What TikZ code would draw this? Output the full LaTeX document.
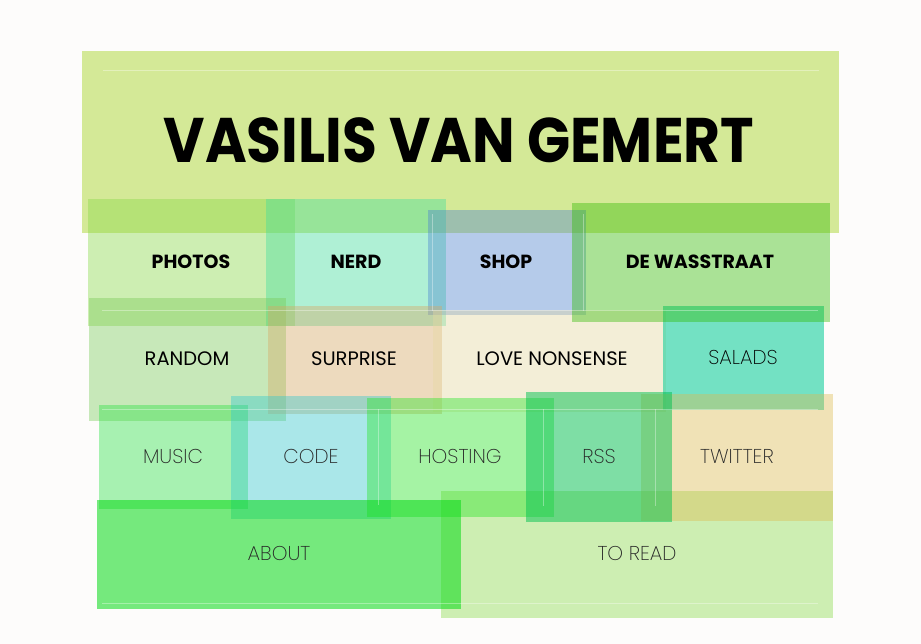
\documentclass[tikz,border=0pt]{standalone}
\usepackage{fontspec}
\setmainfont{Poppins}
\newfontfamily\pthin{Poppins ExtraLight}
\newfontfamily\pbold{Poppins Bold}
\newfontfamily\ptitle{Poppins Bold}[FakeStretch=0.9]
\definecolor{bgc}{RGB}{253,252,251}
\definecolor{cHead}{RGB}{152,205,3}
\definecolor{cPhotos}{RGB}{135,217,70}
\definecolor{cNerd}{RGB}{60,222,157}
\definecolor{cShop}{RGB}{75,130,210}
\definecolor{cWass}{RGB}{47,187,0}
\definecolor{cRandom}{RGB}{120,202,87}
\definecolor{cSurprise}{RGB}{215,167,100}
\definecolor{cLove}{RGB}{230,217,162}
\definecolor{cSalads}{RGB}{2,204,150}
\definecolor{cMusic}{RGB}{40,225,67}
\definecolor{cCode}{RGB}{47,200,207}
\definecolor{cHosting}{RGB}{35,230,35}
\definecolor{cRss}{RGB}{0,193,81}
\definecolor{cTwitter}{RGB}{222,187,80}
\definecolor{cAbout}{RGB}{7,218,22}
\definecolor{cToread}{RGB}{135,217,70}
\tikzset{
  tile/.style={fill opacity=0.4},
  strongtile/.style={fill opacity=0.5},
  vstrongtile/.style={fill opacity=0.55},
  guide/.style={draw=white, draw opacity=0.35, line width=1pt},
  title/.style={font=\ptitle\fontsize{63}{70}\selectfont, inner sep=0pt},
  lbold/.style={font=\pbold\fontsize{19}{22}\selectfont, inner sep=0pt},
  lreg/.style={font=\fontsize{19.5}{22}\selectfont, inner sep=0pt},
  lthin/.style={font=\pthin\fontsize{20}{22}\selectfont, inner sep=0pt, text=black!85},
}
\begin{document}
\begin{tikzpicture}[x=1pt,y=-1pt]
\fill[bgc] (0,0) rectangle (921,644);
\useasboundingbox (0,0) rectangle (921,644);
% header
\fill[cHead, fill opacity=0.4] (82,51) rectangle (839,233);
% row 1
\fill[cPhotos, tile] (88,199) rectangle (295,326);
\fill[cNerd, tile] (266,199) rectangle (446,326);
\fill[cShop, tile] (428,210) rectangle (586,315);
% row 2
\fill[cRandom, tile] (89,298) rectangle (286,421);
\fill[cSurprise, tile] (268,306) rectangle (442,414);
\fill[cLove, tile] (433,310) rectangle (666,412);
\fill[cSalads, vstrongtile] (663,306) rectangle (824,410);
\fill[cWass, tile] (572,203) rectangle (830,322);
% row 3
\fill[cMusic, tile] (99,405) rectangle (248,509);
\fill[cCode, tile] (231,396) rectangle (391,519);
\fill[cToread, tile] (441,491) rectangle (833,618);
\fill[cHosting, tile] (367,398) rectangle (554,517);
\fill[cTwitter, tile] (641,394) rectangle (833,521);
\fill[cRss, strongtile] (526,392) rectangle (672,522);
% row 4
\fill[cAbout, vstrongtile] (97,500) rectangle (461,609);
% faint guide lines
\draw[guide] (103,71) -- (819,71);
\draw[guide] (102,311) -- (818,311);
\draw[guide] (102,409) -- (818,409);
\draw[guide] (102,603) -- (818,603);
\draw[guide] (432,214) -- (432,311) (583,214) -- (583,311);
\draw[guide] (543,409) -- (543,506) (655,409) -- (655,506);
\draw[guide] (378,409) -- (378,505);
% texts
\node[title] (t) at (459,140) {VASILIS VAN GEMERT};
\node[lbold] (photos) at (191,262) {PHOTOS};
\node[lbold] (nerd) at (356,262) {NERD};
\node[lbold] (shop) at (506,262) {SHOP};
\node[lbold] (wass) at (700,262) {DE WASSTRAAT};
\node[lreg] (random) at (187,359) {RANDOM};
\node[lreg] (surprise) at (354,359) {SURPRISE};
\node[lreg] (love) at (552,359) {LOVE NONSENSE};
\node[lthin, text=black] (salads) at (743,357) {SALADS};
\node[lthin] (music) at (173,456) {MUSIC};
\node[lthin] (code) at (311,456) {CODE};
\node[lthin] (hosting) at (460,456) {HOSTING};
\node[lthin] (rss) at (599,456) {RSS};
\node[lthin] (twitter) at (737,456) {TWITTER};
\node[lthin] (about) at (279,553) {ABOUT};
\node[lthin] (toread) at (637,553) {TO READ};
\end{tikzpicture}
\end{document}
